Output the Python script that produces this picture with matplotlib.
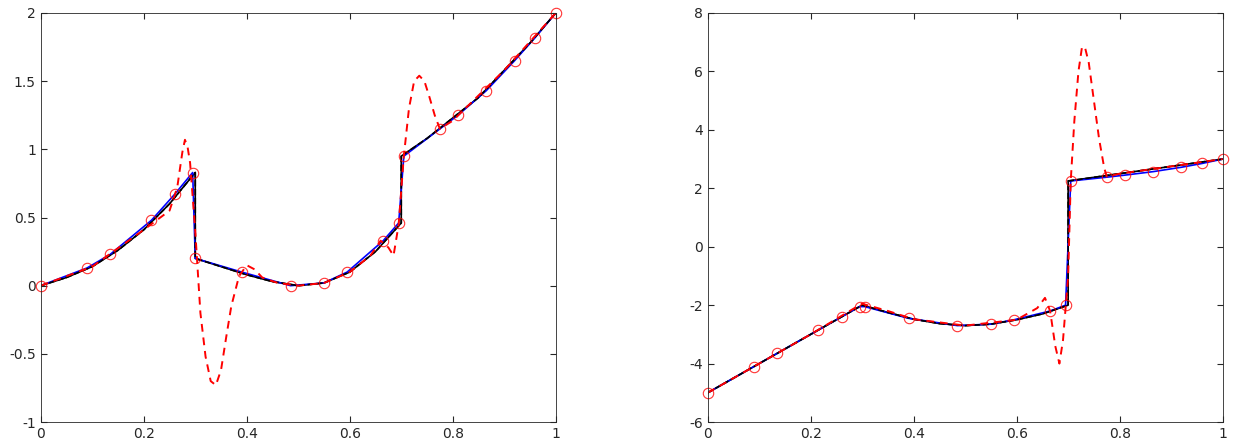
import matplotlib.pyplot as plt

# left panel
ex1_x = [0, 0.05, 0.1, 0.15, 0.2, 0.25, 0.3, 0.3, 0.35, 0.4, 0.45, 0.5, 0.55, 0.6, 0.65, 0.7, 0.7, 0.75, 0.8, 0.85, 0.9, 0.95, 1.0]
ex1_y = [0, 0.06, 0.14, 0.26, 0.41, 0.6, 0.83, 0.2, 0.14, 0.08, 0.03, 0.0, 0.02, 0.1, 0.25, 0.46, 0.95, 1.08, 1.23, 1.38, 1.58, 1.78, 2.0]
mk1_x = [0, 0.09, 0.135, 0.215, 0.26, 0.295, 0.3, 0.39, 0.485, 0.55, 0.595, 0.665, 0.695, 0.705, 0.775, 0.81, 0.865, 0.92, 0.96, 1.0]
mk1_y = [0, 0.13, 0.23, 0.48, 0.67, 0.83, 0.2, 0.1, 0, 0.02, 0.1, 0.33, 0.46, 0.95, 1.15, 1.25, 1.43, 1.65, 1.82, 2.0]
os1_x = [0, 0.1, 0.2, 0.25, 0.265, 0.275, 0.28, 0.285, 0.29, 0.3, 0.31, 0.32, 0.33, 0.34, 0.35, 0.36, 0.37, 0.385, 0.4, 0.415, 0.43, 0.46, 0.5, 0.55, 0.6, 0.64, 0.66, 0.675, 0.685, 0.695, 0.705, 0.715, 0.725, 0.735, 0.745, 0.755, 0.765, 0.775, 0.8, 0.9, 1.0]
os1_y = [0, 0.14, 0.41, 0.55, 0.72, 0.98, 1.07, 1.02, 0.9, 0.4, -0.2, -0.52, -0.7, -0.73, -0.62, -0.38, -0.15, 0.07, 0.15, 0.12, 0.06, 0.02, 0.0, 0.02, 0.1, 0.22, 0.33, 0.28, 0.22, 0.45, 0.95, 1.3, 1.5, 1.54, 1.5, 1.38, 1.25, 1.15, 1.21, 1.58, 2.0]

# right panel
ex2_x = [0, 0.1, 0.2, 0.3, 0.35, 0.4, 0.45, 0.5, 0.55, 0.6, 0.65, 0.7, 0.7, 0.8, 0.9, 1.0]
ex2_y = [-5, -4.0, -3.0, -2.0, -2.25, -2.48, -2.63, -2.7, -2.65, -2.5, -2.3, -2.0, 2.25, 2.5, 2.75, 3.0]
mk2_x = [0, 0.09, 0.135, 0.215, 0.26, 0.295, 0.305, 0.39, 0.485, 0.55, 0.595, 0.665, 0.695, 0.705, 0.775, 0.81, 0.865, 0.92, 0.96, 1.0]
mk2_y = [-5, -4.1, -3.65, -2.85, -2.4, -2.05, -2.05, -2.45, -2.7, -2.65, -2.5, -2.2, -2.0, 2.25, 2.38, 2.45, 2.57, 2.72, 2.85, 3.0]
os2_x = [0, 0.1, 0.2, 0.29, 0.3, 0.31, 0.33, 0.35, 0.4, 0.5, 0.6, 0.64, 0.655, 0.665, 0.675, 0.683, 0.69, 0.7, 0.705, 0.712, 0.72, 0.727, 0.733, 0.74, 0.75, 0.76, 0.77, 0.775, 0.8, 0.9, 1.0]
os2_y = [-5, -4.0, -3.0, -2.05, -1.95, -2.0, -2.1, -2.2, -2.48, -2.7, -2.5, -2.1, -1.75, -2.2, -3.4, -4.0, -3.2, -1.0, 2.25, 4.3, 6.0, 6.85, 6.8, 6.3, 5.0, 3.7, 2.7, 2.4, 2.5, 2.75, 3.0]

panels = [
    (ex1_x, ex1_y, mk1_x, mk1_y, os1_x, os1_y, (-1, 2), [-1, -0.5, 0, 0.5, 1, 1.5, 2], ['-1', '-0.5', '0', '0.5', '1', '1.5', '2'], 0.033),
    (ex2_x, ex2_y, mk2_x, mk2_y, os2_x, os2_y, (-6, 8), [-6, -4, -2, 0, 2, 4, 6, 8], ['-6', '-4', '-2', '0', '2', '4', '6', '8'], 0.573),
]

fig = plt.figure(figsize=(12.35, 4.48), dpi=100)
for ex_x, ex_y, mk_x, mk_y, os_x, os_y, ylim, yt, ytl, left in panels:
    ax = fig.add_axes([left, 0.058, 0.417, 0.913])
    ax.plot(ex_x, ex_y, color='black', lw=1.2)
    ax.plot(mk_x, mk_y, color='blue', lw=1.2)
    ax.plot(ex_x, ex_y, color='black', lw=1.2, ls='--')
    ax.plot(os_x, os_y, color='red', lw=1.4, ls='--', dashes=(4, 3))
    ax.plot(mk_x, mk_y, 'o', mfc='none', mec='red', ms=7.5, mew=0.8, alpha=0.8, clip_on=False)
    ax.set_xlim(0, 1)
    ax.set_ylim(*ylim)
    ax.set_xticks([0, 0.2, 0.4, 0.6, 0.8, 1])
    ax.set_xticklabels(['0', '0.2', '0.4', '0.6', '0.8', '1'])
    ax.set_yticks(yt)
    ax.set_yticklabels(ytl)
    ax.tick_params(direction='in', top=True, right=True, labelsize=10, colors='#262626', length=4)
    for s in ax.spines.values():
        s.set_color('#262626')
        s.set_linewidth(0.6)

fig.savefig('out.png', dpi=100)
